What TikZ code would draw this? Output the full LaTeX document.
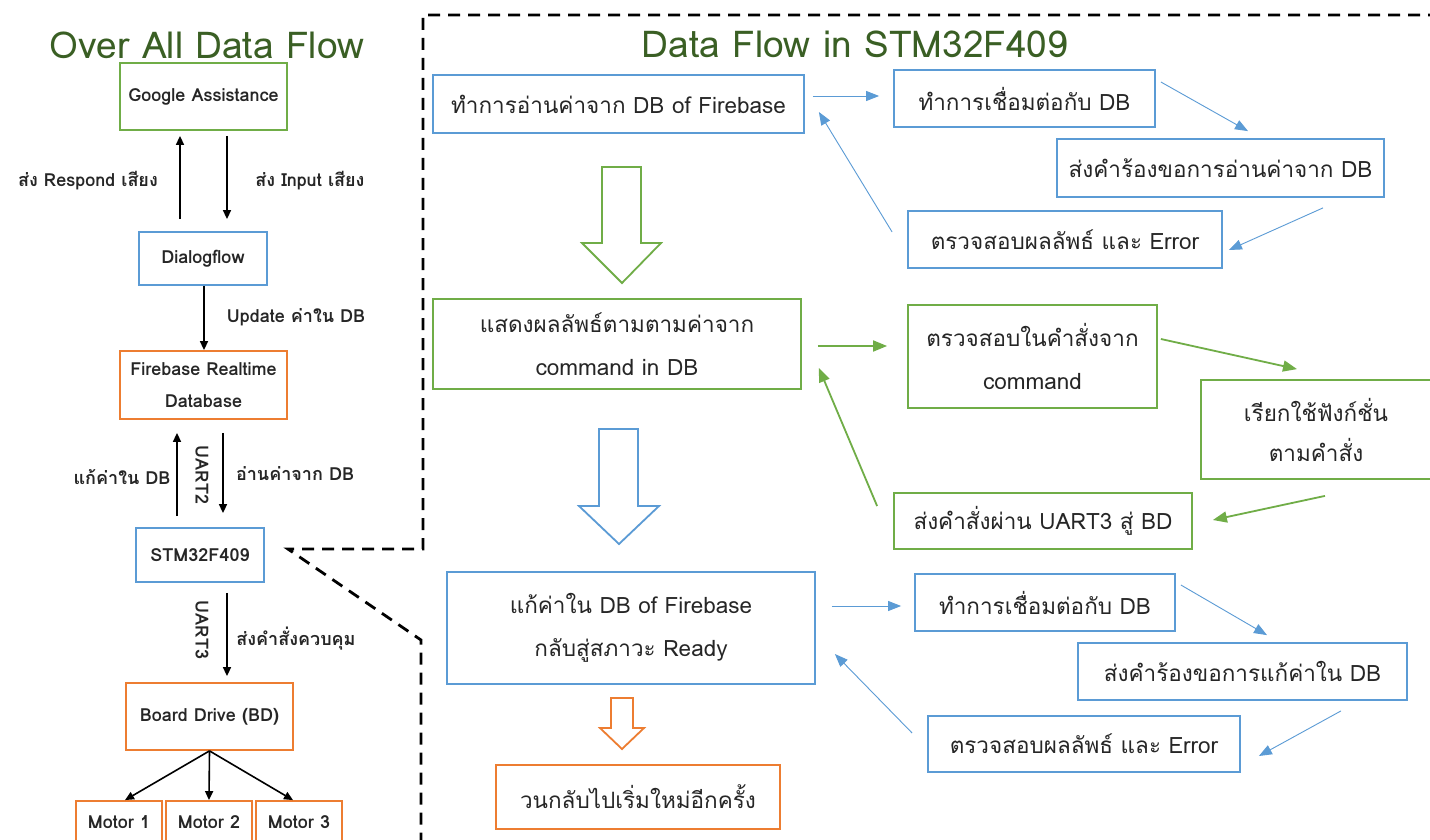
\documentclass[tikz,border=0pt]{standalone}
\usepackage{fontspec}
\setmainfont[Script=Thai]{Loma}
\usetikzlibrary{arrows.meta,calc}
\definecolor{cblue}{HTML}{5B9BD5}
\definecolor{cgreen}{HTML}{70AD47}
\definecolor{corange}{HTML}{ED7D31}
\definecolor{ctitle}{HTML}{3A5F24}
\tikzset{
  box/.style={draw, line width=1.8pt, rectangle, inner sep=0pt, align=center, text=black!85},
  lbox/.style={box, font=\bfseries\fontsize{18}{32}\selectfont},
  rbox/.style={box, font=\fontsize{22.5}{43}\selectfont},
  lbl/.style={font=\bfseries\fontsize{18}{20}\selectfont, text=black!85, inner sep=0pt},
  title/.style={font=\fontsize{37}{40}\selectfont, text=ctitle, inner sep=0pt},
  karr/.style={line width=1.6pt, -{Triangle[length=9pt,width=8pt]}},
  barr/.style={draw=cblue, line width=0.9pt, -{Triangle[length=13pt,width=10pt]}, cblue},
  garr/.style={draw=cgreen, line width=1.8pt, -{Triangle[length=14pt,width=11pt]}, cgreen},
  dashline/.style={line width=2.8pt, dash pattern=on 12pt off 8pt},
  blockarr/.style={line width=1.8pt, fill=white, line join=miter}
}
\begin{document}
\begin{tikzpicture}[x=1pt,y=-1pt]
\useasboundingbox (0,0) rectangle (1430,840);
\clip (0,0) rectangle (1430,840);
\fill[white] (0,0) rectangle (1430,840);

% titles
\node[title] (t1) at (207,45) {Over All Data Flow};
\node[title] (t2) at (855,44) {Data Flow in STM32F409};

% left column
\node[lbox, draw=cgreen, minimum width=167pt, minimum height=67pt] (ga) at (203.5,96.5) {Google Assistance};
\node[lbox, draw=cblue, minimum width=128pt, minimum height=53pt] (df) at (203,258.5) {Dialogflow};
\node[lbox, draw=corange, minimum width=167pt, minimum height=68pt] (fb) at (203.5,385) {Firebase Realtime\\Database};
\node[lbox, draw=cblue, minimum width=128pt, minimum height=54pt] (stm) at (200,555) {STM32F409};
\node[lbox, draw=corange, minimum width=167pt, minimum height=67pt] (bd) at (209.5,716.5) {Board Drive (BD)};
\node[lbox, draw=corange, minimum width=86pt, minimum height=42pt] (m1) at (119,822) {Motor 1};
\node[lbox, draw=corange, minimum width=86pt, minimum height=42pt] (m2) at (209,822) {Motor 2};
\node[lbox, draw=corange, minimum width=86pt, minimum height=42pt] (m3) at (299,822) {Motor 3};

\draw[karr] ($(df.north)+(-23,-12)$) -- ($(ga.south)+(-23.5,5)$);
\draw[karr] ($(ga.south)+(23.5,5)$) -- ($(df.north)+(24,-12)$);
\draw[karr] ($(df.south)+(1,0)$) -- ($(fb.north)+(0.5,0)$);
\draw[karr] ($(stm.north)+(-23,-11)$) -- ($(fb.south)+(-26.5,13)$);
\draw[karr] ($(fb.south)+(19.5,13)$) -- ($(stm.north)+(23,-14)$);
\draw[karr] ($(stm.south)+(27,10)$) -- ($(bd.north)+(17.5,-6)$);
\draw[karr] (bd.south) -- ($(m1.north)+(6,0)$);
\draw[karr] (bd.south) -- (m2.north);
\draw[karr] (bd.south) -- ($(m3.north)+(-6,0)$);

\node[lbl] (l1) at (88,181) {ส่ง Respond เสียง};
\node[lbl] (l2) at (310,181) {ส่ง Input เสียง};
\node[lbl] (l3) at (296,317) {Update ค่าใน DB};
\node[lbl] (l4) at (122,477) {แก้ค่าใน DB};
\node[lbl, rotate=-90] (l5) at (202,475) {UART2};
\node[lbl] (l6) at (295,474) {อ่านค่าจาก DB};
\node[lbl, rotate=-90] (l7) at (202,630) {UART3};
\node[lbl] (l8) at (296,639) {ส่งคำสั่งควบคุม};

% dashed frame
\draw[dashline] (1440,15) -- (423,15) -- (423,549) -- ($(stm.east)+(23,-6)$) -- (421,640) -- (421,850);

% right side boxes
\node[rbox, draw=cblue, minimum width=371pt, minimum height=58pt] (a1) at (618.5,104) {ทำการอ่านค่าจาก DB of Firebase};
\node[rbox, draw=cblue, minimum width=261pt, minimum height=57pt] (b1) at (1024.5,98.5) {ทำการเชื่อมต่อกับ DB};
\node[rbox, draw=cblue, minimum width=327pt, minimum height=58pt] (b2) at (1220.5,168) {ส่งคำร้องขอการอ่านค่าจาก DB};
\node[rbox, draw=cblue, minimum width=314pt, minimum height=57pt] (b3) at (1065,239.5) {ตรวจสอบผลลัพธ์ และ Error};

\node[rbox, draw=cgreen, minimum width=368pt, minimum height=90pt] (c1) at (617,344) {แสดงผลลัพธ์ตามตามค่าจาก\\command in DB};
\node[rbox, draw=cgreen, minimum width=249pt, minimum height=103pt] (d1) at (1032.5,356.5) {ตรวจสอบในคำสั่งจาก\\command};
\node[rbox, draw=cgreen, minimum width=250pt, minimum height=99pt, font=\fontsize{22.5}{40}\selectfont] (d2) at (1326,429.5) {\hspace*{-20pt}เรียกใช้ฟังก์ชั่น\\\hspace*{-20pt}ตามคำสั่ง};
\node[rbox, draw=cgreen, minimum width=298pt, minimum height=56pt] (d3) at (1043,521) {ส่งคำสั่งผ่าน UART3 สู่ BD};

\node[rbox, draw=cblue, minimum width=368pt, minimum height=112pt] (e1) at (631,628) {แก้ค่าใน DB of Firebase\\กลับสู่สภาวะ Ready};
\node[rbox, draw=cblue, minimum width=260pt, minimum height=57pt] (f1) at (1045,602.5) {ทำการเชื่อมต่อกับ DB};
\node[rbox, draw=cblue, minimum width=329pt, minimum height=57pt] (f2) at (1242.5,671.5) {ส่งคำร้องขอการแก้ค่าใน DB};
\node[rbox, draw=cblue, minimum width=312pt, minimum height=56pt] (f3) at (1084,744) {ตรวจสอบผลลัพธ์ และ Error};

\node[rbox, draw=corange, minimum width=284pt, minimum height=64pt] (g) at (638,797) {วนกลับไปเริ่มใหม่อีกครั้ง};

% thin arrows
\draw[barr] ($(a1.east)+(8,-8)$) -- ($(b1.west)+(-14,-2.5)$);
\draw[barr] ($(b1.east)+(5,-16.5)$) -- ($(b2.north)+(27.5,-7)$);
\draw[barr] ($(b2.south)+(102.5,10)$) -- ($(b3.east)+(6,10.5)$);
\draw[barr] ($(b3.west)+(-15,-7.5)$) -- ($(a1.east)+(14,8)$);

\draw[garr] ($(c1.east)+(16,2)$) -- ($(d1.west)+(-20,-10.5)$);
\draw[garr] ($(d1.east)+(3,-17.5)$) -- ($(d2.north)+(-29,-10)$);
\draw[garr] ($(d2.south)+(-1,16)$) -- ($(d3.east)+(20,-1)$);
\draw[garr] ($(d3.west)+(-16,-15)$) -- ($(c1.east)+(17,24)$);

\draw[barr] ($(e1.east)+(16,-22)$) -- ($(f1.west)+(-13,3.5)$);
\draw[barr] ($(f1.east)+(5,-17.5)$) -- ($(f2.north)+(24.5,-7)$);
\draw[barr] ($(f2.south)+(98.5,10)$) -- ($(f3.east)+(18,12)$);
\draw[barr] ($(f3.west)+(-15,-11)$) -- ($(e1.east)+(19,26)$);

% block arrows
\draw[blockarr, draw=cgreen] (602,167) -- (641,167) -- (641,243) -- (661,243) -- (622,283) -- (582,243) -- (602,243) -- cycle;
\draw[blockarr, draw=cblue] (599,429) -- (638,429) -- (638,506) -- (659,506) -- (619,544) -- (579,506) -- (599,506) -- cycle;
\draw[blockarr, draw=corange] (611,698) -- (633,698) -- (633,728) -- (644,728) -- (622,749) -- (600,728) -- (611,728) -- cycle;
\end{tikzpicture}
\end{document}
